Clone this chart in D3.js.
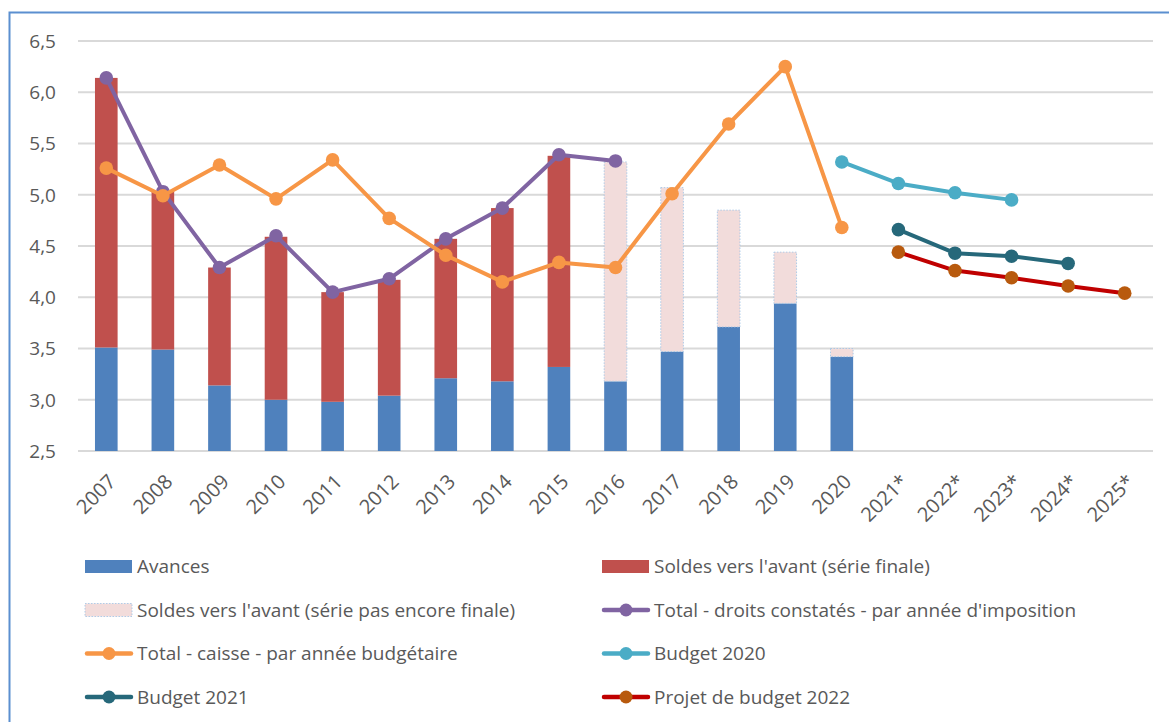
<!DOCTYPE html>
<html>
<head>
<meta charset="utf-8">
<script src="https://cdn.jsdelivr.net/npm/d3@7/dist/d3.min.js"></script>
<style>
  html, body { margin: 0; padding: 0; background: #fff; }
  svg { display: block; font-family: "Open Sans", Lato, sans-serif; }
</style>
</head>
<body>
<svg id="chart" width="1169" height="722"></svg>
<script>
// Categories (years; * = projections)
const years = ["2007","2008","2009","2010","2011","2012","2013","2014","2015","2016",
               "2017","2018","2019","2020","2021*","2022*","2023*","2024*","2025*"];

// Bars: advances and total (advances + balances)
const avances   = [3.51, 3.49, 3.14, 3.00, 2.98, 3.04, 3.21, 3.18, 3.32, 3.18, 3.47, 3.71, 3.94, 3.42];
const totalBars = [6.14, 5.03, 4.29, 4.59, 4.05, 4.17, 4.57, 4.87, 5.38, 5.32, 5.07, 4.85, 4.44, 3.50];
const finalCount = 9; // 2007–2015: final series; from 2016: not yet final

// Lines
const droitsYears = years.slice(0, 10);
const droits      = [6.14, 5.03, 4.29, 4.60, 4.05, 4.18, 4.57, 4.87, 5.39, 5.33];
const caisseYears = years.slice(0, 14);
const caisse      = [5.26, 4.99, 5.29, 4.96, 5.34, 4.77, 4.41, 4.15, 4.34, 4.29, 5.01, 5.69, 6.25, 4.68];
const b2020Years  = ["2020","2021*","2022*","2023*"];
const budget2020  = [5.32, 5.11, 5.02, 4.95];
const b2021Years  = ["2021*","2022*","2023*","2024*"];
const budget2021  = [4.66, 4.43, 4.40, 4.33];
const p2022Years  = ["2021*","2022*","2023*","2024*","2025*"];
const projet2022  = [4.44, 4.26, 4.19, 4.11, 4.04];

const yTicks = [2.5, 3.0, 3.5, 4.0, 4.5, 5.0, 5.5, 6.0, 6.5];

const C = {
  avances: "#4F81BD", final: "#C0504D", pending: "#F2DCDB", pendingEdge: "#9DC3E6",
  droits: "#8064A2", caisse: "#F79646", b2020: "#4BACC6", b2021: "#26687A",
  p2022Line: "#C00000", p2022Dot: "#B85A0E", grid: "#D9D9D9", text: "#595959", frame: "#5B8FD0"
};

const svg = d3.select("#chart");
const plotL = 78, plotR = 1153, plotT = 41, plotB = 451;

const x = d3.scaleBand().domain(years).range([plotL, plotR]).padding(0);
const y = d3.scaleLinear().domain([2.5, 6.5]).range([plotB, plotT]);
const cx = d => x(d) + x.bandwidth() / 2;
const barW = x.bandwidth() * 0.4;

// outer frame
svg.append("rect").attr("x", 9.5).attr("y", 12.5).attr("width", 1200).attr("height", 800)
  .attr("fill", "none").attr("stroke", C.frame).attr("stroke-width", 2);

// gridlines
svg.append("g").selectAll("line").data(yTicks).join("line")
  .attr("x1", plotL).attr("x2", plotR)
  .attr("y1", d => y(d)).attr("y2", d => y(d))
  .attr("stroke", C.grid).attr("stroke-width", 1.8);

// y axis labels
const fmt = d => d3.format(".1f")(d).replace(".", ",");
svg.append("g").selectAll("text").data(yTicks).join("text")
  .attr("x", 56).attr("y", d => y(d)).attr("dy", "0.36em")
  .attr("text-anchor", "end").attr("font-size", 19).attr("fill", C.text)
  .text(fmt);

// x axis labels (rotated)
svg.append("g").selectAll("text").data(years).join("text")
  .attr("transform", d => `translate(${cx(d) + 1},${plotB + 22}) rotate(-45)`)
  .attr("text-anchor", "end").attr("dy", "0.7em").attr("font-size", 20).attr("fill", C.text)
  .text(d => d);

// stacked bars
const barData = avances.map((a, i) => ({ year: years[i], a, t: totalBars[i], final: i < finalCount }));
const bars = svg.append("g");
bars.selectAll("rect.av").data(barData).join("rect").attr("class", "av")
  .attr("x", d => cx(d.year) - barW / 2).attr("width", barW)
  .attr("y", d => y(d.a)).attr("height", d => y(2.5) - y(d.a))
  .attr("fill", C.avances);
bars.selectAll("rect.solde").data(barData).join("rect").attr("class", "solde")
  .attr("x", d => cx(d.year) - barW / 2).attr("width", barW)
  .attr("y", d => y(d.t)).attr("height", d => y(d.a) - y(d.t))
  .attr("fill", d => d.final ? C.final : C.pending)
  .attr("stroke", d => d.final ? "none" : C.pendingEdge)
  .attr("stroke-width", d => d.final ? 0 : 0.8)
  .attr("stroke-dasharray", d => d.final ? null : "1.5,1.5");

// line series with markers
function series(cats, vals, lineColor, dotColor) {
  const pts = cats.map((c, i) => [cx(c), y(vals[i])]);
  const g = svg.append("g");
  g.append("path").attr("d", d3.line()(pts))
    .attr("fill", "none").attr("stroke", lineColor).attr("stroke-width", 4)
    .attr("stroke-linejoin", "round").attr("stroke-linecap", "round");
  g.selectAll("circle").data(pts).join("circle")
    .attr("cx", p => p[0]).attr("cy", p => p[1]).attr("r", 6.8).attr("fill", dotColor);
}
series(droitsYears, droits, C.droits, C.droits);
series(caisseYears, caisse, C.caisse, C.caisse);
series(b2020Years, budget2020, C.b2020, C.b2020);
series(b2021Years, budget2021, C.b2021, C.b2021);
series(p2022Years, projet2022, C.p2022Line, C.p2022Dot);

// legend
const legendItems = [
  { label: "Avances", kind: "bar", fill: C.avances },
  { label: "Soldes vers l'avant (série finale)", kind: "bar", fill: C.final },
  { label: "Soldes vers l'avant (série pas encore finale)", kind: "pending", fill: C.pending },
  { label: "Total - droits constatés - par année d'imposition", kind: "line", line: C.droits, dot: C.droits },
  { label: "Total - caisse - par année budgétaire", kind: "line", line: C.caisse, dot: C.caisse },
  { label: "Budget 2020", kind: "line", line: C.b2020, dot: C.b2020 },
  { label: "Budget 2021", kind: "line", line: C.b2021, dot: C.b2021 },
  { label: "Projet de budget 2022", kind: "line", line: C.p2022Line, dot: C.p2022Dot }
];
const colX = [85, 602], rowY = [566.5, 610, 653.5, 697];
const lg = svg.append("g").selectAll("g").data(legendItems).join("g")
  .attr("transform", (d, i) => `translate(${colX[i % 2]},${rowY[Math.floor(i / 2)]})`);
lg.filter(d => d.kind !== "line").append("rect")
  .attr("x", 0).attr("y", -6.5).attr("width", 47).attr("height", 13)
  .attr("fill", d => d.fill)
  .attr("stroke", d => d.kind === "pending" ? C.pendingEdge : "none")
  .attr("stroke-width", 0.8).attr("stroke-dasharray", "1.5,1.5");
lg.filter(d => d.kind === "line").append("line")
  .attr("x1", 2).attr("x2", 46).attr("y1", 0).attr("y2", 0)
  .attr("stroke", d => d.line).attr("stroke-width", 4.5).attr("stroke-linecap", "round");
lg.filter(d => d.kind === "line").append("circle")
  .attr("cx", 24).attr("cy", 0).attr("r", 6.5).attr("fill", d => d.dot);
lg.append("text").attr("x", 52).attr("y", 0).attr("dy", "0.36em")
  .attr("font-size", 19).attr("fill", C.text).text(d => d.label);
</script>
</body>
</html>
